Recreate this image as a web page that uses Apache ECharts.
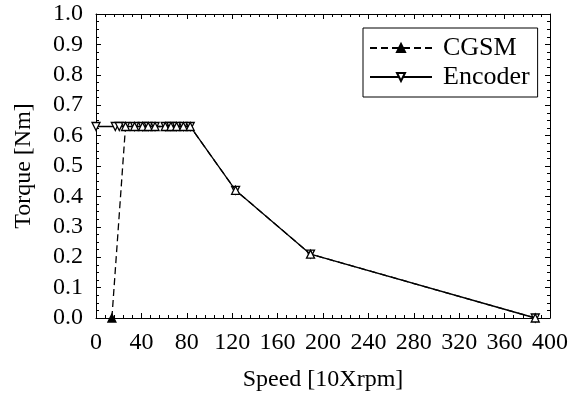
<!DOCTYPE html>
<html><head><meta charset="utf-8">
<script src="https://cdn.jsdelivr.net/npm/echarts@6/dist/echarts.min.js"></script>
<style>html,body{margin:0;padding:0;background:#fff}#c{width:579px;height:405px}</style>
</head><body><div id="c"></div>
<script>
const xTicks = [0, 40, 80, 120, 160, 200, 240, 280, 320, 360, 400];
const yTicks = [0.0, 0.1, 0.2, 0.3, 0.4, 0.5, 0.6, 0.7, 0.8, 0.9, 1.0];
const cgsmSpeed = [14, 26, 34, 41, 46, 52, 61, 66, 71, 77, 83, 123, 189, 387];
const cgsmTorque = [0.0, 0.63, 0.63, 0.63, 0.63, 0.63, 0.63, 0.63, 0.63, 0.63, 0.63, 0.42, 0.21, 0.0];
const encSpeed = [0, 17, 20.5, 26, 34, 41, 46, 52, 61, 66, 71, 77, 83, 123, 189, 387];
const encTorque = [0.63, 0.63, 0.63, 0.63, 0.63, 0.63, 0.63, 0.63, 0.63, 0.63, 0.63, 0.63, 0.63, 0.42, 0.21, 0.0];

const font = 'Liberation Serif';
const FS = 24;
const chart = echarts.init(document.getElementById('c'));
function axis(extra, split, show) {
  return Object.assign({
    type: 'value',
    axisLine: {show: true, onZero: false, lineStyle: {color: '#000', width: 1}},
    axisTick: {show: true, inside: true, length: 5, lineStyle: {color: '#000', width: 1}},
    minorTick: {show: true, splitNumber: split, length: 3, lineStyle: {color: '#000', width: 1}},
    splitLine: {show: false},
    axisLabel: show ? {fontFamily: font, fontSize: FS, color: '#000', margin: 13} : {show: false}
  }, extra);
}
const xBase = {min: xTicks[0], max: xTicks[xTicks.length - 1], interval: 40};
const yBase = {min: yTicks[0], max: yTicks[yTicks.length - 1], interval: 0.1};
chart.setOption({
  animation: false,
  backgroundColor: '#fff',
  grid: {left: 96, right: 29, top: 14, bottom: 87},
  legend: {
    left: 363, top: 28, orient: 'vertical',
    padding: [7, 8, 7, 6],
    backgroundColor: '#fff', borderColor: '#000', borderWidth: 1, borderRadius: 0,
    itemWidth: 62, itemHeight: 10, itemGap: 3,
    textStyle: {fontFamily: font, fontSize: 26, color: '#000', padding: [0, 0, 0, 6]},
    data: [
      {name: 'CGSM', itemStyle: {color: '#000', borderColor: '#000'}},
      {name: 'Encoder'}
    ]
  },
  xAxis: [
    axis(Object.assign({position: 'bottom',
      name: 'Speed [10Xrpm]', nameLocation: 'middle', nameGap: 50,
      nameTextStyle: {fontFamily: font, fontSize: FS, color: '#000'}}, xBase), 5, true),
    axis(Object.assign({position: 'top'}, xBase), 5, false)
  ],
  yAxis: [
    axis(Object.assign({position: 'left',
      name: 'Torque [Nm]', nameLocation: 'middle', nameGap: 60, nameRotate: 90,
      nameTextStyle: {fontFamily: font, fontSize: FS, color: '#000'}}, yBase), 4, true),
    axis(Object.assign({position: 'right'}, yBase), 4, false)
  ],
  series: [
    {
      name: 'Encoder', type: 'line',
      data: encSpeed.map((x, i) => [x, encTorque[i]]),
      symbol: 'triangle', symbolRotate: 180, symbolSize: 8,
      lineStyle: {color: '#000', width: 1.3},
      itemStyle: {color: '#fff', borderColor: '#000', borderWidth: 1.3},
      z: 2
    },
    {
      name: 'CGSM', type: 'line',
      data: cgsmSpeed.map((x, i) => i === 0
        ? {value: [x, cgsmTorque[i]], itemStyle: {color: '#000'}}
        : [x, cgsmTorque[i]]),
      symbol: 'triangle', symbolSize: 8,
      lineStyle: {color: '#000', width: 1.3, type: [7, 4]},
      itemStyle: {color: '#fff', borderColor: '#000', borderWidth: 1.3},
      z: 3
    }
  ]
});
chart.setOption({yAxis: [{axisLabel: {formatter: v => v.toFixed(1)}}, {}]});
</script></body></html>
